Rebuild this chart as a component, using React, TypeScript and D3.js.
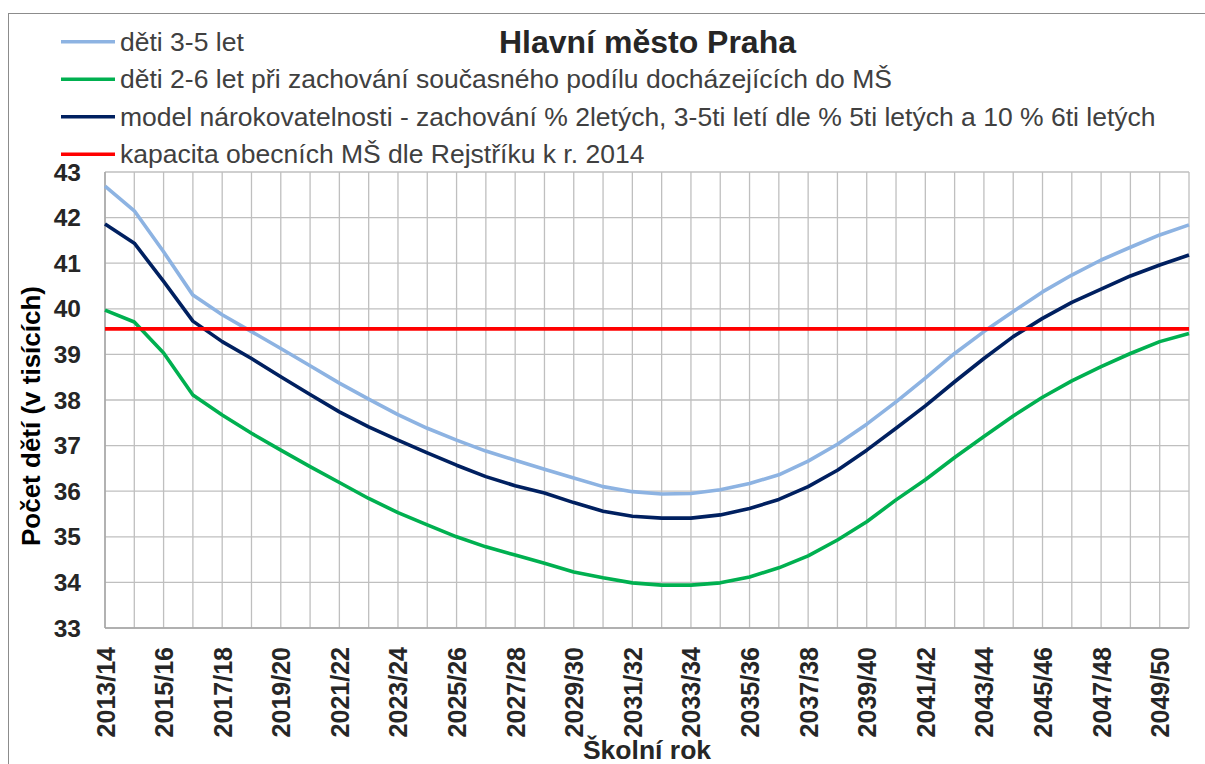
import React from "react";
import * as d3 from "d3";

const years = [
  "2013/14", "2014/15", "2015/16", "2016/17", "2017/18", "2018/19", "2019/20", "2020/21",
  "2021/22", "2022/23", "2023/24", "2024/25", "2025/26", "2026/27", "2027/28", "2028/29",
  "2029/30", "2030/31", "2031/32", "2032/33", "2033/34", "2034/35", "2035/36", "2036/37",
  "2037/38", "2038/39", "2039/40", "2040/41", "2041/42", "2042/43", "2043/44", "2044/45",
  "2045/46", "2046/47", "2047/48", "2048/49", "2049/50", "2050/51",
];

// počty v tisících
const deti35 = [
  42.69, 42.15, 41.25, 40.3, 39.87, 39.5, 39.13, 38.75, 38.37, 38.02, 37.68, 37.38, 37.12,
  36.88, 36.68, 36.48, 36.29, 36.1, 35.99, 35.94, 35.95, 36.03, 36.17, 36.36, 36.66, 37.03,
  37.47, 37.96, 38.48, 39.02, 39.5, 39.94, 40.37, 40.74, 41.07, 41.35, 41.62, 41.84,
];
const deti26 = [
  39.97, 39.71, 39.03, 38.11, 37.67, 37.27, 36.9, 36.54, 36.19, 35.84, 35.53, 35.26, 35.0,
  34.78, 34.6, 34.42, 34.23, 34.1, 33.99, 33.94, 33.94, 33.99, 34.12, 34.32, 34.58, 34.93,
  35.33, 35.81, 36.25, 36.74, 37.2, 37.65, 38.06, 38.42, 38.73, 39.02, 39.28, 39.46,
];
const model = [
  41.86, 41.44, 40.6, 39.73, 39.28, 38.91, 38.51, 38.12, 37.74, 37.41, 37.12, 36.84, 36.57,
  36.32, 36.12, 35.96, 35.75, 35.56, 35.45, 35.41, 35.41, 35.48, 35.62, 35.82, 36.1, 36.46,
  36.9, 37.38, 37.87, 38.4, 38.91, 39.39, 39.79, 40.14, 40.43, 40.72, 40.96, 41.18,
];
const kapacita = 39.56;

const yTicks = [33, 34, 35, 36, 37, 38, 39, 40, 41, 42, 43];

const legendItems = [
  { label: "děti 3-5 let", color: "#8db3e2" },
  { label: "děti 2-6 let při zachování současného podílu docházejících do MŠ", color: "#00b050" },
  { label: "model nárokovatelnosti - zachování % 2letých, 3-5ti letí dle % 5ti letých a 10 % 6ti letých", color: "#002060" },
  { label: "kapacita obecních MŠ dle Rejstříku k r. 2014", color: "#ff0000" },
];

const font = "'Liberation Sans', Arial, sans-serif";

export default function App() {
  const width = 1205;
  const height = 764;
  const left = 105, right = 1189, top = 172, bottom = 628;

  const x = d3.scalePoint<string>().domain(years).range([left, right]);
  const y = d3.scaleLinear().domain([33, 43]).range([bottom, top]);

  const line = d3
    .line<number>()
    .x((_, i) => x(years[i]) as number)
    .y((d) => y(d));

  const series = [
    { data: deti35, color: legendItems[0].color },
    { data: deti26, color: legendItems[1].color },
    { data: model, color: legendItems[2].color },
    { data: years.map(() => kapacita), color: legendItems[3].color },
  ];

  return (
    <svg
      width={width}
      height={height}
      style={{ position: "absolute", left: 0, top: 0, background: "#fff" }}
      fontFamily={font}
    >
      <rect x={8.5} y={13.5} width={1210} height={800} fill="#fff" stroke="#8c8c8c" />

      {/* mřížka */}
      {yTicks.map((t) => (
        <line key={"h" + t} x1={left} x2={right} y1={y(t)} y2={y(t)} stroke="#bfbfbf" strokeWidth={1.3} />
      ))}
      {years.map((yr) => (
        <line key={"v" + yr} x1={x(yr)} x2={x(yr)} y1={top} y2={bottom} stroke="#bfbfbf" strokeWidth={1.3} />
      ))}
      <line x1={left} x2={right} y1={bottom} y2={bottom} stroke="#a6a6a6" strokeWidth={1.5} />
      <line x1={left} x2={left} y1={top} y2={bottom} stroke="#a6a6a6" strokeWidth={1.5} />

      {series.map((s, i) => (
        <path key={i} d={line(s.data) as string} fill="none" stroke={s.color} strokeWidth={3.6} strokeLinejoin="round" />
      ))}

      {/* osa y */}
      {yTicks.map((t) => (
        <text key={"yl" + t} x={81} y={y(t) + 8.5} textAnchor="end" fontSize={24.5} fontWeight="bold" fill="#262626">
          {t}
        </text>
      ))}
      <text
        transform={`translate(40,416) rotate(-90)`}
        textAnchor="middle"
        fontSize={26}
        fontWeight="bold"
        fill="#000"
      >
        Počet dětí (v tisících)
      </text>

      {/* osa x */}
      {years.map((yr, i) =>
        i % 2 === 0 ? (
          <text
            key={"xl" + yr}
            transform={`translate(${(x(yr) as number) + 9.5},647) rotate(-90)`}
            textAnchor="end"
            fontSize={25}
            fontWeight="bold"
            fill="#262626"
          >
            {yr}
          </text>
        ) : null
      )}
      <text x={647} y={759} textAnchor="middle" fontSize={26.5} fontWeight="bold" fill="#262626">
        Školní rok
      </text>

      {/* titulek */}
      <text x={647.5} y={53} textAnchor="middle" fontSize={32} fontWeight="bold" fill="#262626">
        Hlavní město Praha
      </text>

      {/* legenda */}
      {legendItems.map((it, i) => (
        <g key={it.label} transform={`translate(0,${41.7 + i * 37.5})`}>
          <line x1={61} x2={115} y1={0} y2={0} stroke={it.color} strokeWidth={3.6} />
          <text x={120} y={9} fontSize={26.5} fill="#404040">
            {it.label}
          </text>
        </g>
      ))}
    </svg>
  );
}
